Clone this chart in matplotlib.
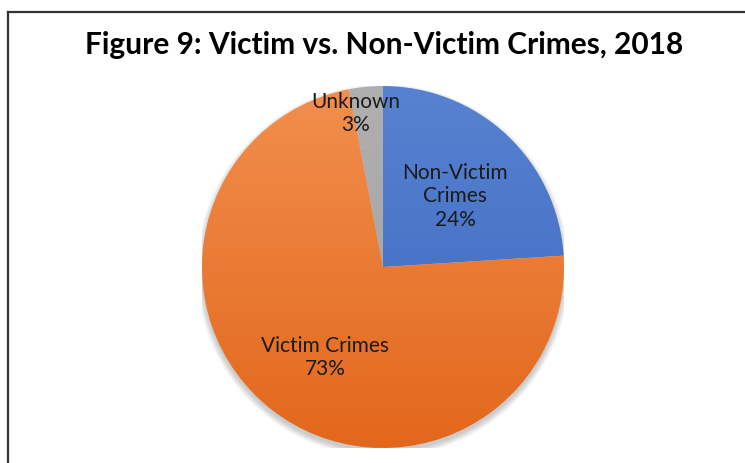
import numpy as np
import matplotlib
matplotlib.use("Agg")
import matplotlib.pyplot as plt
from matplotlib.lines import Line2D
from matplotlib.patches import Circle

# data
categories = ["Non-Victim\nCrimes", "Victim Crimes", "Unknown"]
shares = [24, 73, 3]
top_colors = ["#5883D2", "#F2904F", "#B0B0B0"]
bottom_colors = ["#3A66BE", "#E2661A", "#A0A0A0"]
label_xy = [(0.40, 0.39), (-0.32, -0.50), (-0.15, 0.85)]

fig = plt.figure(figsize=(7.45, 4.63), dpi=100)
W, H = 745, 463
cx, cy, r = 383, 267, 181
ax = fig.add_axes([(cx - r) / W, (H - cy - r) / H, 2 * r / W, 2 * r / H])

# soft shadow under the pie
for k in range(6):
    ax.add_patch(Circle((0.0, -0.02), 1.0 + 0.006 * k, color="black",
                        alpha=0.035, lw=0, zorder=0))

wedges, _ = ax.pie(shares, startangle=90, counterclock=False, radius=1.0,
                   wedgeprops=dict(linewidth=0))

# vertical gradient fill for each wedge
for w, c1, c2 in zip(wedges, top_colors, bottom_colors):
    w.set_facecolor("none")
    a = np.array(matplotlib.colors.to_rgb(c1))
    b = np.array(matplotlib.colors.to_rgb(c2))
    t = np.linspace(0, 1, 256)[:, None]
    grad = (a[None, :] * (1 - t) + b[None, :] * t)[:, None, :]
    im = ax.imshow(grad, extent=[-1.05, 1.05, -1.05, 1.05], aspect="auto",
                   origin="upper", zorder=1)
    im.set_clip_path(w)

for (x, y), name, s in zip(label_xy, categories, shares):
    ax.text(x, y, f"{name}\n{s}%", ha="center", va="center", fontsize=15,
            family=["Lato", "DejaVu Sans"], color="#1a1a1a",
            linespacing=1.2, zorder=3)

ax.set_xlim(-1.0, 1.0)
ax.set_ylim(-1.0, 1.0)
ax.axis("off")

fig.text(0.515, 1 - 45 / H, "Figure 9: Victim vs. Non-Victim Crimes, 2018",
         ha="center", va="center", fontsize=21.5, fontweight="bold",
         family=["Lato", "DejaVu Sans"])

# frame (only top and left edges fall inside the crop)
fig.add_artist(Line2D([8 / W, 8 / W], [0, 1 - 12 / H], color="#333333", lw=1.6))
fig.add_artist(Line2D([8 / W, 1], [1 - 12 / H, 1 - 12 / H], color="#333333", lw=1.6))

fig.savefig("out.png", dpi=100)
